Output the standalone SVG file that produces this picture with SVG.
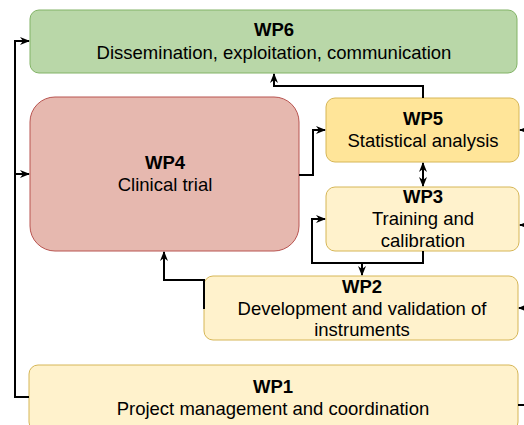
<svg xmlns="http://www.w3.org/2000/svg" width="524" height="425" viewBox="0 0 524 425">
  <defs>
    <style>
      .box { stroke-width: 1; }
      .green { fill: #b9d7a8; stroke: #82b366; }
      .red { fill: #e6b8af; stroke: #b85450; }
      .gold { fill: #ffe599; stroke: #d6b656; }
      .cream { fill: #fff2cc; stroke: #d6b656; }
      text { font-family: "Liberation Sans", Arial, sans-serif; font-size: 18.5px; fill: #000; text-anchor: middle; }
      .title { font-weight: bold; }
      .link { fill: none; stroke: #000; stroke-width: 2; }
    </style>
    <marker id="head" viewBox="0 0 10 10" refX="9" refY="5" markerWidth="10" markerHeight="10" orient="auto-start-reverse" markerUnits="userSpaceOnUse">
      <path d="M0,1 L10,5 L0,9 L3,5 Z" fill="#000"/>
    </marker>
  </defs>

  <!-- work packages -->
  <g id="wp6">
    <rect class="box green" x="30" y="10" width="487" height="63" rx="9"/>
    <text class="title" x="274" y="36">WP6</text>
    <text x="274" y="59">Dissemination, exploitation, communication</text>
  </g>
  <g id="wp4">
    <rect class="box red" x="30" y="97" width="269" height="154" rx="25"/>
    <text class="title" x="165" y="169">WP4</text>
    <text x="165" y="191">Clinical trial</text>
  </g>
  <g id="wp5">
    <rect class="box gold" x="326" y="98" width="193" height="64" rx="9"/>
    <text class="title" x="423" y="125">WP5</text>
    <text x="423" y="147">Statistical analysis</text>
  </g>
  <g id="wp3">
    <rect class="box cream" x="326" y="187" width="193" height="64" rx="9"/>
    <text class="title" x="423" y="203">WP3</text>
    <text x="423" y="225">Training and</text>
    <text x="423" y="247">calibration</text>
  </g>
  <g id="wp2">
    <rect class="box cream" x="204" y="276" width="314" height="64" rx="9"/>
    <text class="title" x="362" y="293">WP2</text>
    <text x="362" y="315">Development and validation of</text>
    <text x="362" y="336">instruments</text>
  </g>
  <g id="wp1">
    <rect class="box cream" x="29" y="365" width="489" height="66" rx="9"/>
    <text class="title" x="273" y="393">WP1</text>
    <text x="273" y="415">Project management and coordination</text>
  </g>

  <!-- connectors -->
  <g id="connectors">
    <!-- WP1 to WP6 and WP4 along the left side -->
    <path class="link" d="M29,397 H15 V41 H29" marker-end="url(#head)"/>
    <path class="link" d="M15,174 H29" marker-end="url(#head)"/>
    <!-- WP4 to WP5 -->
    <path class="link" d="M299,175 H313 V130 H325" marker-end="url(#head)"/>
    <!-- WP5 to WP6 -->
    <path class="link" d="M423,98 V86 H274 V74" marker-end="url(#head)"/>
    <!-- WP5 and WP3 -->
    <path class="link" d="M423,163 V186" marker-start="url(#head)" marker-end="url(#head)"/>
    <!-- WP3 feedback and WP3 to WP2 -->
    <path class="link" d="M423,251 V263 H312 V219 H325" marker-end="url(#head)"/>
    <path class="link" d="M362,263 V275" marker-end="url(#head)"/>
    <!-- WP2 to WP4 -->
    <path class="link" d="M204,309 V280 H164 V252" marker-end="url(#head)"/>
    <!-- incoming links from the right -->
    <path class="link" d="M526,130 H520" marker-end="url(#head)"/>
    <path class="link" d="M526,225 H520" marker-end="url(#head)"/>
    <path class="link" d="M526,308 H519" marker-end="url(#head)"/>
    <path class="link" d="M526,405 H518"/>
  </g>
</svg>
